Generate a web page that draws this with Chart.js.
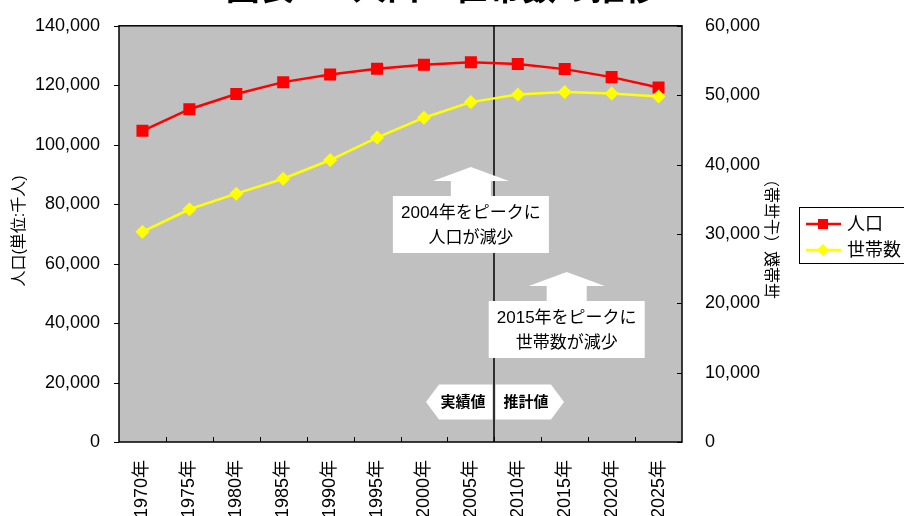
<!DOCTYPE html>
<html>
<head>
<meta charset="utf-8">
<script src="https://cdn.jsdelivr.net/npm/chart.js@4"></script>
<style>
  html, body { margin: 0; padding: 0; background: #fff; }
</style>
</head>
<body>
<canvas id="chart" width="904" height="516"></canvas>
<script>
// Data
const years = ['1970年', '1975年', '1980年', '1985年', '1990年', '1995年',
               '2000年', '2005年', '2010年', '2015年', '2020年', '2025年'];
const population = [104665, 111940, 117060, 121049, 123611, 125570,
                    126926, 127768, 127176, 125430, 122735, 119270];   // 千人
const households = [30300, 33550, 35800, 37950, 40650, 43880,
                    46750, 49000, 50100, 50450, 50250, 49800];         // 千世帯
const popAxis = { min: 0, max: 140000, step: 20000 };
const hhAxis = { min: 0, max: 60000, step: 10000 };
const lastActualIndex = 7;            // 2005年 is the last measured value
const seriesNames = ['人口', '世帯数'];
const periodNames = ['実績値', '推計値'];
const peakNotes = [
  { index: 7, lines: ['2004年をピークに', '人口が減少'] },
  { index: 9, lines: ['2015年をピークに', '世帯数が減少'] }
];
const titleText = '図表1-1 人口・世帯数の推移';
const leftTitle = '人口(単位:千人)';
const rightTitle = '世帯数（千世帯）';

const FONT = "'Liberation Sans', 'Noto Sans CJK JP', sans-serif";
Chart.defaults.font.family = FONT;
Chart.defaults.color = '#000';

function line(ctx, x1, y1, x2, y2) {
  ctx.beginPath();
  ctx.moveTo(x1, y1);
  ctx.lineTo(x2, y2);
  ctx.stroke();
}

// arrow pointing up with a white text box under it
function noteBox(ctx, cx, tipY, boxTop, lines) {
  const headW = 38, shaftW = 20, boxW = 78, boxH = 57;
  ctx.fillStyle = '#fff';
  ctx.beginPath();
  ctx.moveTo(cx, tipY);
  ctx.lineTo(cx + headW, tipY + 14);
  ctx.lineTo(cx + shaftW, tipY + 14);
  ctx.lineTo(cx + shaftW, boxTop);
  ctx.lineTo(cx + boxW, boxTop);
  ctx.lineTo(cx + boxW, boxTop + boxH);
  ctx.lineTo(cx - boxW, boxTop + boxH);
  ctx.lineTo(cx - boxW, boxTop);
  ctx.lineTo(cx - shaftW, boxTop);
  ctx.lineTo(cx - shaftW, tipY + 14);
  ctx.lineTo(cx - headW, tipY + 14);
  ctx.closePath();
  ctx.fill();
  ctx.fillStyle = '#000';
  ctx.font = '17px ' + FONT;
  ctx.textAlign = 'center';
  ctx.textBaseline = 'middle';
  ctx.fillText(lines[0], cx, boxTop + 17);
  ctx.fillText(lines[1], cx, boxTop + 42);
}

const decor = {
  id: 'decor',
  beforeDraw(chart) {
    const { ctx, chartArea: a } = chart;
    ctx.save();
    ctx.fillStyle = '#c0c0c0';
    ctx.fillRect(a.left, a.top, a.right - a.left, a.bottom - a.top);
    ctx.restore();
  },
  beforeDatasetsDraw(chart) {
    const { ctx, chartArea: a } = chart;
    const xs = chart.scales.x;
    ctx.save();
    // divider between measured and projected values
    const divX = Math.round((xs.getPixelForValue(lastActualIndex) + xs.getPixelForValue(lastActualIndex + 1)) / 2);
    ctx.strokeStyle = '#000';
    ctx.lineWidth = 1.5;
    line(ctx, divX, a.top, divX, a.bottom);

    // peak notes
    noteBox(ctx, xs.getPixelForValue(peakNotes[0].index), 167, 196, peakNotes[0].lines);
    noteBox(ctx, xs.getPixelForValue(peakNotes[1].index) + 2, 272, 301, peakNotes[1].lines);

    // 実績値 / 推計値 tags
    const ty = 402, th = 17.5;
    ctx.fillStyle = '#fff';
    ctx.beginPath();
    ctx.moveTo(divX - 68, ty);
    ctx.lineTo(divX - 55, ty - th);
    ctx.lineTo(divX - 1.5, ty - th);
    ctx.lineTo(divX - 1.5, ty + th);
    ctx.lineTo(divX - 55, ty + th);
    ctx.closePath();
    ctx.fill();
    ctx.beginPath();
    ctx.moveTo(divX + 1.5, ty - th);
    ctx.lineTo(divX + 57, ty - th);
    ctx.lineTo(divX + 70, ty);
    ctx.lineTo(divX + 57, ty + th);
    ctx.lineTo(divX + 1.5, ty + th);
    ctx.closePath();
    ctx.fill();
    ctx.fillStyle = '#000';
    ctx.font = 'bold 15px ' + FONT;
    ctx.textAlign = 'center';
    ctx.textBaseline = 'middle';
    ctx.fillText(periodNames[0], divX - 31, ty + 1);
    ctx.fillText(periodNames[1], divX + 32, ty + 1);
    ctx.restore();
  },
  afterDraw(chart) {
    const { ctx, chartArea: a } = chart;
    const xs = chart.scales.x, yl = chart.scales.y, yr = chart.scales.y2;
    ctx.save();
    ctx.strokeStyle = '#000';
    ctx.lineWidth = 1;
    yl.ticks.forEach(t => {
      const y = Math.round(yl.getPixelForValue(t.value)) + 0.5;
      line(ctx, a.left - 5, y, a.left, y);
    });
    yr.ticks.forEach(t => {
      const y = Math.round(yr.getPixelForValue(t.value)) + 0.5;
      line(ctx, a.right - 5, y, a.right, y);
    });
    for (let i = 1; i < years.length; i++) {
      const x = Math.round((xs.getPixelForValue(i - 1) + xs.getPixelForValue(i)) / 2) + 0.5;
      line(ctx, x, a.bottom - 5, x, a.bottom);
    }
    ctx.lineWidth = 1.5;
    ctx.strokeRect(a.left, a.top, a.right - a.left, a.bottom - a.top);

    // axis titles
    ctx.fillStyle = '#000';
    ctx.font = '16px ' + FONT;
    ctx.textAlign = 'center';
    ctx.textBaseline = 'middle';
    ctx.save();
    ctx.translate(20, 231);
    ctx.rotate(-Math.PI / 2);
    ctx.fillText(leftTitle, 0, 0);
    ctx.restore();
    ctx.save();
    ctx.translate(770, 235);
    ctx.rotate(-Math.PI / 2);
    ctx.scale(1, -1);
    ctx.fillText(rightTitle, 0, 0);
    ctx.restore();

    // title, mostly above the top edge
    ctx.font = 'bold 34px ' + FONT;
    ctx.textBaseline = 'alphabetic';
    ctx.fillText(titleText, 442, 0);

    // legend
    ctx.lineWidth = 1;
    ctx.strokeRect(799.5, 207.5, 120, 56);
    const ds = chart.data.datasets;
    [224, 250].forEach((y, i) => {
      ctx.strokeStyle = ds[i].borderColor;
      ctx.lineWidth = 2.5;
      line(ctx, 806, y, 841, y);
      ctx.fillStyle = ds[i].backgroundColor;
      ctx.beginPath();
      if (i === 0) {
        ctx.rect(818, y - 5, 10, 10);
      } else {
        ctx.moveTo(823, y - 6); ctx.lineTo(829, y); ctx.lineTo(823, y + 6); ctx.lineTo(817, y);
        ctx.closePath();
      }
      ctx.fill();
      ctx.fillStyle = '#000';
      ctx.font = '18px ' + FONT;
      ctx.textAlign = 'left';
      ctx.textBaseline = 'middle';
      ctx.fillText(seriesNames[i], 847, y + 1);
    });
    ctx.restore();
  }
};

const ctx = document.getElementById('chart').getContext('2d');
new Chart(ctx, {
  type: 'line',
  data: {
    labels: years,
    datasets: [
      {
        label: seriesNames[0],
        data: population,
        yAxisID: 'y',
        borderColor: '#ff0000',
        backgroundColor: '#ff0000',
        borderWidth: 2.5,
        pointStyle: 'rect',
        pointRadius: 8.5,
        pointBorderWidth: 0,
        tension: 0,
        order: 1
      },
      {
        label: seriesNames[1],
        data: households,
        yAxisID: 'y2',
        borderColor: '#ffff00',
        backgroundColor: '#ffff00',
        borderWidth: 2.5,
        pointStyle: 'rectRot',
        pointRadius: 7,
        pointBorderWidth: 0,
        tension: 0,
        order: 0
      }
    ]
  },
  options: {
    responsive: false,
    animation: false,
    devicePixelRatio: 1,
    layout: { padding: { top: 23, left: 0, right: 0, bottom: 0 } },
    plugins: {
      legend: { display: false },
      tooltip: { enabled: false }
    },
    scales: {
      x: {
        offset: true,
        grid: { display: false },
        border: { display: false },
        ticks: { font: { size: 18 }, minRotation: 90, maxRotation: 90, padding: 10, autoSkip: false },
        afterFit(s) { s.height = 74; }
      },
      y: {
        position: 'left',
        min: popAxis.min, max: popAxis.max,
        grid: { display: false },
        border: { display: false },
        ticks: { stepSize: popAxis.step, font: { size: 18 }, padding: 11,
                 callback: v => v.toLocaleString('en-US') },
        afterFit(s) { s.width = 119; }
      },
      y2: {
        position: 'right',
        min: hhAxis.min, max: hhAxis.max,
        grid: { display: false },
        border: { display: false },
        ticks: { stepSize: hhAxis.step, font: { size: 18 }, padding: 15,
                 callback: v => v.toLocaleString('en-US') },
        afterFit(s) { s.width = 222; }
      }
    }
  },
  plugins: [decor]
});
</script>
</body>
</html>
